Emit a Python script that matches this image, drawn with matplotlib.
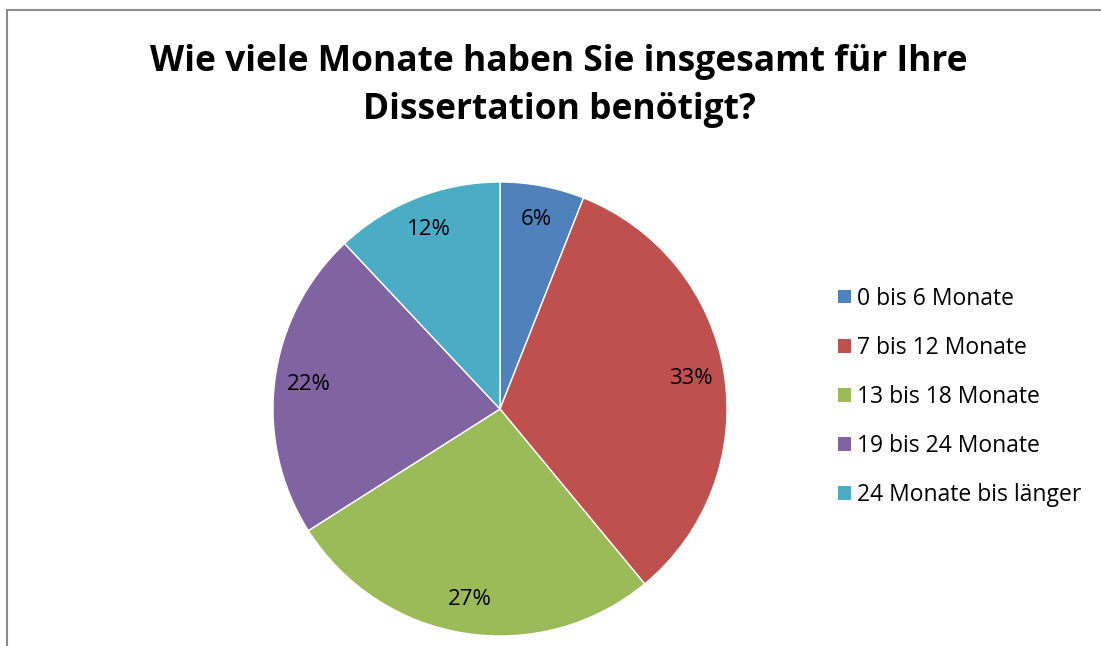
import matplotlib.pyplot as plt
from matplotlib.patches import Patch
from matplotlib.lines import Line2D

# Daten
labels = ["0 bis 6 Monate", "7 bis 12 Monate", "13 bis 18 Monate",
          "19 bis 24 Monate", "24 Monate bis länger"]
werte = [6, 33, 27, 22, 12]
farben = ["#4F81BD", "#C0504D", "#9BBB59", "#8064A2", "#4BACC6"]
titel = "Wie viele Monate haben Sie insgesamt für Ihre\nDissertation benötigt?"

plt.rcParams['font.family'] = ['Open Sans', 'DejaVu Sans']

W, H = 1101, 646
fig = plt.figure(figsize=(W / 100, H / 100), dpi=100)

# Rahmen (nur links und oben sichtbar)
rx, ry = 7 / W, 1 - 10 / H
fig.add_artist(Line2D([rx, rx], [0, ry], transform=fig.transFigure,
                      color="#8c8c8c", linewidth=1.5, solid_capstyle="projecting"))
fig.add_artist(Line2D([rx, 1], [ry, ry], transform=fig.transFigure,
                      color="#8c8c8c", linewidth=1.5, solid_capstyle="projecting"))

# Kreisdiagramm
cx, cy, r = 500, 409, 227
ax = fig.add_axes([(cx - r) / W, (H - cy - r) / H, 2 * r / W, 2 * r / H])
wedges, texts, autotexts = ax.pie(
    werte, colors=farben, startangle=90, counterclock=False,
    autopct=lambda p: f"{p:.0f}%", pctdistance=0.85,
    wedgeprops=dict(edgecolor="white", linewidth=1.0),
    textprops=dict(fontsize=16, color="black"))
ax.set_xlim(-1, 1)
ax.set_ylim(-1, 1)
ax.set_aspect("equal")

fig.text(559 / W, 1 - 86 / H, titel, ha="center", va="center",
         fontsize=25.5, fontweight="bold", linespacing=1.45)

handles = [Patch(facecolor=c, edgecolor="none") for c in farben]
fig.legend(handles, labels, loc="center left", bbox_to_anchor=(838 / W, 1 - 397 / H),
           frameon=False, fontsize=16.5, labelspacing=1.1, handlelength=0.55,
           handleheight=0.55, handletextpad=0.3, borderpad=0, borderaxespad=0)

fig.savefig("out.png", dpi=100)
